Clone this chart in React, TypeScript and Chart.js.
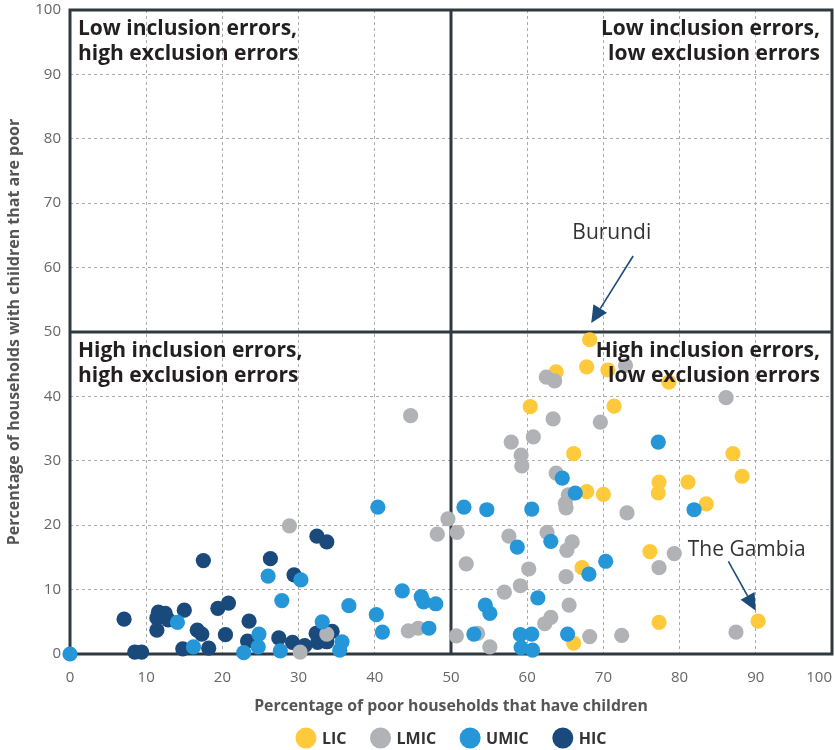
import React, { useEffect, useRef } from "react";
import { Chart, registerables } from "chart.js";

Chart.register(...registerables);

// ---------- data ----------
const SERIES_NAMES = ["LIC", "LMIC", "UMIC", "HIC"];
const SERIES_COLORS = ["#FFC93C", "#B1B2B5", "#2597D8", "#1A4A7B"];

const licX = [68.2, 67.8, 70.6, 63.8, 78.6, 60.4, 71.4, 66.1, 87.0, 88.2, 77.3, 81.1, 77.2, 67.8, 70.0, 83.5, 67.2, 76.1, 77.3, 66.1, 90.3];
const licY = [48.8, 44.6, 44.1, 43.8, 42.2, 38.4, 38.5, 31.1, 31.1, 27.6, 26.7, 26.7, 25.0, 25.2, 24.8, 23.3, 13.4, 15.9, 4.9, 1.7, 5.1];

const lmicX = [28.8, 30.2, 33.7, 44.7, 44.4, 45.7, 50.7, 49.6, 48.2, 50.8, 52.0, 62.5, 63.6, 72.9, 63.4, 69.6, 57.9, 60.8, 59.2, 59.3, 63.8, 65.4, 65.0, 65.1, 73.1, 57.6, 62.6, 65.9, 65.2, 60.2, 65.1, 59.1, 57.0, 65.5, 63.1, 62.3, 53.5, 55.1, 68.2, 72.4, 86.1, 79.3, 77.3, 87.4];
const lmicY = [19.9, 0.3, 3.1, 37.0, 3.6, 4.0, 2.8, 21.0, 18.6, 18.9, 14.0, 43.0, 42.4, 44.8, 36.5, 36.0, 32.9, 33.7, 30.9, 29.2, 28.1, 24.7, 23.4, 22.7, 21.9, 18.3, 18.9, 17.4, 16.1, 13.2, 12.0, 10.6, 9.6, 7.6, 5.7, 4.7, 3.2, 1.1, 2.7, 2.9, 39.8, 15.6, 13.4, 3.4];

const umicX = [0, 14.1, 16.2, 24.8, 24.7, 22.8, 27.6, 26.0, 27.8, 30.3, 33.1, 35.7, 35.4, 36.6, 40.4, 43.6, 46.1, 46.4, 48.0, 40.2, 41.0, 47.1, 53.0, 51.7, 54.7, 60.6, 58.7, 63.1, 68.1, 70.3, 61.4, 54.5, 55.1, 59.1, 60.6, 59.2, 60.7, 65.3, 64.6, 66.3, 77.2, 81.9];
const umicY = [0, 4.9, 1.1, 3.1, 1.1, 0.2, 0.5, 12.1, 8.3, 11.5, 5.0, 1.9, 0.6, 7.5, 22.8, 9.8, 8.9, 8.1, 7.8, 6.1, 3.4, 4.0, 3.1, 22.8, 22.4, 22.5, 16.6, 17.5, 12.4, 14.4, 8.7, 7.6, 6.3, 3.0, 3.1, 1.0, 0.6, 3.1, 27.3, 25.0, 32.9, 22.4];

const hicX = [7.1, 8.5, 9.4, 11.6, 12.5, 11.4, 12.9, 11.4, 15.0, 14.8, 17.5, 16.7, 17.3, 18.2, 19.4, 20.8, 20.4, 23.5, 23.3, 26.3, 27.4, 29.4, 29.2, 30.8, 32.3, 32.5, 33.7, 34.4, 32.4, 33.7];
const hicY = [5.4, 0.3, 0.3, 6.5, 6.3, 5.6, 5.3, 3.7, 6.8, 0.8, 14.5, 3.7, 3.1, 0.9, 7.1, 7.9, 3.0, 5.1, 2.0, 14.8, 2.5, 12.3, 1.8, 1.3, 3.2, 1.8, 1.9, 3.5, 18.3, 17.4];

const AXIS_MIN = 0;
const AXIS_MAX = 100;
const AXIS_STEP = 10;
const SPLIT_X = 50;
const SPLIT_Y = 50;

const X_TITLE = "Percentage of poor households that have children";
const Y_TITLE = "Percentage of households with children that are poor";

const QUADRANT_TL = ["Low inclusion errors,", "high exclusion errors"];
const QUADRANT_TR = ["Low inclusion errors,", "low exclusion errors"];
const QUADRANT_BL = ["High inclusion errors,", "high exclusion errors"];
const QUADRANT_BR = ["High inclusion errors,", "low exclusion errors"];

// annotation label + arrow (data coordinates)
const ANNOTATION_TEXT = ["Burundi", "The Gambia"];
const ANNOTATION_TEXT_X = [71.1, 88.8];
const ANNOTATION_TEXT_Y = [65.4, 16.1];
const ARROW_FROM_X = [73.9, 86.4];
const ARROW_FROM_Y = [61.8, 14.4];
const ARROW_TO_X = [68.4, 90.0];
const ARROW_TO_Y = [51.4, 6.7];

// ---------- styles ----------
const FONT = "'Open Sans', 'DejaVu Sans', sans-serif";
const FRAME_COLOR = "#2E3A40";
const ARROW_COLOR = "#1B4B7A";

const toPoints = (xs: number[], ys: number[]) => xs.map((x, i) => ({ x, y: ys[i] }));
const SERIES_POINTS = [toPoints(licX, licY), toPoints(lmicX, lmicY), toPoints(umicX, umicY), toPoints(hicX, hicY)];
// drawing order: lower = on top
const SERIES_ORDER = [3, 1, 0, 2];

const overlayPlugin = {
  id: "overlay",
  beforeDatasetsDraw(chart: any) {
    const { ctx, chartArea: a, scales } = chart;
    const mx = scales.x.getPixelForValue(SPLIT_X);
    const my = scales.y.getPixelForValue(SPLIT_Y);
    ctx.save();
    ctx.strokeStyle = FRAME_COLOR;
    ctx.lineWidth = 3;
    ctx.strokeRect(a.left, a.top, a.right - a.left, a.bottom - a.top);
    ctx.beginPath();
    ctx.moveTo(mx, a.top);
    ctx.lineTo(mx, a.bottom);
    ctx.moveTo(a.left, my);
    ctx.lineTo(a.right, my);
    ctx.stroke();
    ctx.restore();
  },
  afterDatasetsDraw(chart: any) {
    const { ctx, chartArea: a, scales } = chart;
    const my = scales.y.getPixelForValue(SPLIT_Y);
    ctx.save();
    ctx.fillStyle = "#231F20";
    ctx.font = `bold 21px ${FONT}`;
    ctx.textBaseline = "alphabetic";
    const drawLines = (lines: string[], x: number, y: number, align: CanvasTextAlign) => {
      ctx.textAlign = align;
      lines.forEach((l, i) => ctx.fillText(l, x, y + i * 25));
    };
    drawLines(QUADRANT_TL, a.left + 8, a.top + 25, "left");
    drawLines(QUADRANT_TR, a.right - 12, a.top + 25, "right");
    drawLines(QUADRANT_BL, a.left + 8, my + 25, "left");
    drawLines(QUADRANT_BR, a.right - 12, my + 25, "right");

    // annotations
    ctx.font = `21px ${FONT}`;
    ctx.textAlign = "center";
    ctx.textBaseline = "middle";
    ANNOTATION_TEXT.forEach((t, i) => {
      ctx.fillStyle = "#333333";
      const tx = scales.x.getPixelForValue(ANNOTATION_TEXT_X[i]);
      const ty = scales.y.getPixelForValue(ANNOTATION_TEXT_Y[i]);
      ctx.fillText(t, tx, ty);
      const x1 = scales.x.getPixelForValue(ARROW_FROM_X[i]);
      const y1 = scales.y.getPixelForValue(ARROW_FROM_Y[i]);
      const x2 = scales.x.getPixelForValue(ARROW_TO_X[i]);
      const y2 = scales.y.getPixelForValue(ARROW_TO_Y[i]);
      const ang = Math.atan2(y2 - y1, x2 - x1);
      const headLen = 17;
      const headHalf = 8;
      const bx = x2 - headLen * Math.cos(ang);
      const by = y2 - headLen * Math.sin(ang);
      ctx.strokeStyle = ARROW_COLOR;
      ctx.fillStyle = ARROW_COLOR;
      ctx.lineWidth = 1.6;
      ctx.beginPath();
      ctx.moveTo(x1, y1);
      ctx.lineTo(bx, by);
      ctx.stroke();
      ctx.beginPath();
      ctx.moveTo(x2, y2);
      ctx.lineTo(bx + headHalf * Math.sin(ang), by - headHalf * Math.cos(ang));
      ctx.lineTo(bx - headHalf * Math.sin(ang), by + headHalf * Math.cos(ang));
      ctx.closePath();
      ctx.fill();
    });
    ctx.restore();
  },
  afterDraw(chart: any) {
    const { ctx, chartArea: a } = chart;
    ctx.save();
    ctx.font = `bold 16px ${FONT}`;
    ctx.textBaseline = "middle";
    ctx.textAlign = "left";
    const r = 10.5;
    const textGap = 16;
    const itemGap = 34;
    const widths = SERIES_NAMES.map((n) => ctx.measureText(n).width);
    let total = r;
    widths.forEach((w, i) => {
      total += textGap + w + (i < widths.length - 1 ? itemGap : 0);
    });
    let cx = (a.left + a.right) / 2 - total / 2 + r;
    const cy = chart.height - 12;
    SERIES_NAMES.forEach((n, i) => {
      ctx.fillStyle = SERIES_COLORS[i];
      ctx.beginPath();
      ctx.arc(cx, cy, r, 0, Math.PI * 2);
      ctx.fill();
      ctx.fillStyle = "#333333";
      ctx.fillText(n, cx + textGap, cy + 1);
      cx += textGap + widths[i] + itemGap;
    });
    ctx.restore();
  },
};

export default function App() {
  const canvasRef = useRef<HTMLCanvasElement | null>(null);

  useEffect(() => {
    if (!canvasRef.current) return;
    const chart = new Chart(canvasRef.current, {
      type: "scatter",
      data: {
        datasets: SERIES_NAMES.map((name, i) => ({
          label: name,
          data: SERIES_POINTS[i],
          backgroundColor: SERIES_COLORS[i],
          borderWidth: 0,
          pointRadius: 7.6,
          pointHoverRadius: 7.6,
          order: SERIES_ORDER[i],
          clip: false as any,
        })),
      },
      options: {
        responsive: false,
        animation: false,
        events: [],
        layout: { autoPadding: false, padding: { top: 10, right: 3, bottom: 34, left: 0 } },
        plugins: {
          legend: { display: false },
          tooltip: { enabled: false },
        },
        scales: {
          x: {
            type: "linear",
            min: AXIS_MIN,
            max: AXIS_MAX,
            afterFit: (s: any) => {
              s.height = 62;
              s.paddingLeft = 0;
              s.paddingRight = 0;
            },
            ticks: {
              stepSize: AXIS_STEP,
              padding: 15,
              color: "#666666",
              font: { family: FONT, size: 15 },
              maxRotation: 0,
              callback: (v: any) => (v === AXIS_MAX ? `${v}\u2007\u2007\u2007` : `${v}`),
            },
            grid: { color: "#ABABAB", lineWidth: 1, drawTicks: false },
            border: { display: false, dash: [3, 3] },
            title: {
              display: true,
              text: X_TITLE,
              color: "#555555",
              font: { family: FONT, size: 15.8, weight: "bold" },
              padding: { top: 0, bottom: 0 },
            },
          },
          y: {
            type: "linear",
            min: AXIS_MIN,
            max: AXIS_MAX,
            afterFit: (s: any) => {
              s.width = 70;
              s.paddingTop = 0;
              s.paddingBottom = 0;
            },
            ticks: {
              stepSize: AXIS_STEP,
              padding: 9,
              color: "#666666",
              font: { family: FONT, size: 15 },
            },
            grid: { color: "#ABABAB", lineWidth: 1, drawTicks: false },
            border: { display: false, dash: [3, 3] },
            title: {
              display: true,
              text: Y_TITLE,
              color: "#555555",
              font: { family: FONT, size: 16, weight: "bold" },
              padding: { top: 5, bottom: 0 },
            },
          },
        },
      },
      plugins: [overlayPlugin],
    });
    return () => chart.destroy();
  }, []);

  return (
    <div style={{ position: "absolute", left: 0, top: 0, width: 835, height: 750, background: "#ffffff" }}>
      <canvas ref={canvasRef} width={835} height={750} style={{ display: "block" }} />
    </div>
  );
}
